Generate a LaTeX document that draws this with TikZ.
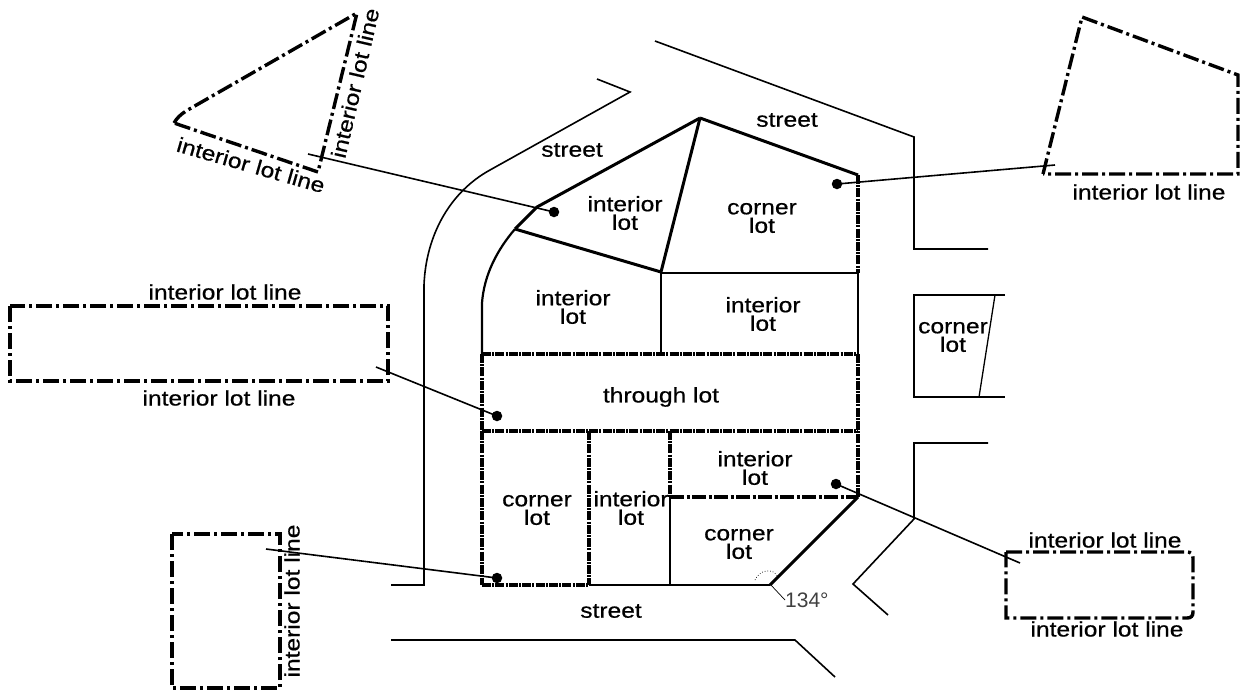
\documentclass[tikz,border=0pt]{standalone}
\usepackage{fontspec}
\setmainfont[FakeStretch=1.17,FakeBold=0.6]{Liberation Sans}
\newfontfamily\plainfont{Liberation Sans}
\usetikzlibrary{calc}
\tikzset{
 lbl/.style={font=\fontsize{21}{18.5}\selectfont,align=center,inner sep=0pt,text=black},
 angtxt/.style={font=\plainfont\fontsize{21}{21}\selectfont,inner sep=0pt,text=black!75},
 streetline/.style={line width=1.6pt,line join=miter},
 lotthin/.style={line width=1.3pt},
 lotmid/.style={line width=2.2pt},
 lotsolid/.style={line width=3pt},
 lotdash/.style={line width=3.2pt,dash pattern=on 9pt off 1.2pt on 2pt off 1.2pt},
 lotdashwide/.style={line width=3.2pt,dash pattern=on 14pt off 2.5pt on 3pt off 2.5pt},
 detail/.style={line width=3.4pt,dash pattern=on 16pt off 4pt on 3pt off 4pt},
 leader/.style={line width=1.6pt},
 pin/.style={circle,fill=black,inner sep=0pt,minimum size=10.5pt},
}
\begin{document}
\begin{tikzpicture}[x=1pt,y=-1pt]
\useasboundingbox (0,0) rectangle (1241,689);
% streets
\draw[streetline] (655,41) -- (914,137) -- (914,249) -- (988,249);
\draw[streetline] (1005,295) -- (914,295) -- (914,397) -- (1005,397);
\draw[lotthin] (995,295) -- (979,397);
\draw[streetline] (988,443) -- (914,443) -- (914,519) -- (853,584) -- (888,615);
\draw[streetline] (391,640) -- (795,640) -- (835,677);
\draw[streetline] (391,585) -- (424,585) -- (424,285) .. controls (426,235) and (450,192) .. (490,170) -- (630,92) -- (597,79);
% block outline
\draw[lotmid] (482,354) -- (482,303) .. controls (484,275) and (497,250) .. (515,229);
\draw[lotsolid] (515,229) -- (537,207) -- (700,118);
\draw[lotsolid] (700,118) -- (858,175);
\draw[lotsolid] (700,118) -- (661,272);
\draw[lotsolid] (515,229) -- (661,272);
\draw[lotmid] (661,273) -- (858,273);
\draw[lotthin] (661,273) -- (661,354);
\draw[lotdash] (858,175) -- (858,273);
\draw[lotthin] (858,273) -- (858,354);
\draw[lotdash] (858,354) -- (858,497);
\draw[lotdash] (482,354) -- (858,354);
\draw[lotdash] (482,431) -- (858,431);
\draw[lotdash] (482,354) -- (482,431);
\draw[lotdash] (482,431) -- (482,585);
\draw[lotdash] (589,431) -- (589,585);
\draw[lotdash] (670,431) -- (670,497);
\draw[lotdashwide] (670,497) -- (858,497);
\draw[lotdash] (482,585) -- (589,585);
\draw[lotmid] (589,585) -- (770,585);
\draw[lotthin] (670,497) -- (670,585);
\draw[lotsolid] (770,585) -- (858,497);
% angle mark
\coordinate (ang) at (770,584);
\draw[line width=0.7pt,dotted] (755,580) .. controls (759,570) and (773,567) .. (778,577);
\node[angtxt,anchor=west] (angl) at (785,600) {134°};
\draw[line width=0.7pt] (ang) -- (angl.west);
% detail shapes
\draw[detail] (174,123) .. controls (177,118) and (180,115) .. (186,111) -- (357,13) -- (318,172) -- cycle;
\draw[detail] (1043,174) -- (1082,17) -- (1238,75) -- (1238,174) -- cycle;
\draw[detail] (10,306) rectangle (388,381);
\draw[detail] (172,534) rectangle (280,688);
\draw[detail] (1006,552) -- (1187,552) .. controls (1191,552) and (1193,554) .. (1193,558) -- (1193,612) .. controls (1193,616) and (1191,618) .. (1187,618) -- (1006,618) -- cycle;
% pins and leaders
\node[pin] (p1) at (554,212) {};
\node[pin] (p2) at (837,184) {};
\node[pin] (p3) at (497,416) {};
\node[pin] (p4) at (497,578) {};
\node[pin] (p5) at (836,484) {};
\coordinate (q1) at (308,154);
\coordinate (q2) at (1055,165);
\coordinate (q3) at (376,367);
\coordinate (q4) at (266,549);
\coordinate (q5) at (1020,563);
\draw[leader] (p1.center) -- (q1);
\draw[leader] (p2.center) -- (q2);
\draw[leader] (p3.center) -- (q3);
\draw[leader] (p4.center) -- (q4);
\draw[leader] (p5.center) -- (q5);
% labels
\node[lbl,rotate=-16] (t1) at (251,165) {interior lot line};
\node[lbl,rotate=77] (t2) at (355,83) {interior lot line};
\node[lbl] (t3) at (1149,192) {interior lot line};
\node[lbl] (t4) at (225,292) {interior lot line};
\node[lbl] (t5) at (219,398) {interior lot line};
\node[lbl,rotate=90] (t6) at (292,601) {interior lot line};
\node[lbl] (t7) at (1105,540) {interior lot line};
\node[lbl] (t8) at (1107,629) {interior lot line};
\node[lbl] (s1) at (572,150) {street};
\node[lbl] (s2) at (787,120) {street};
\node[lbl] (s3) at (611,611) {street};
\node[lbl] (l1) at (625,213) {interior\\lot};
\node[lbl] (l2) at (762,218) {corner\\lot};
\node[lbl] (l3) at (573,307) {interior\\lot};
\node[lbl] (l4) at (763,314) {interior\\lot};
\node[lbl] (l5) at (661,397) {through lot};
\node[lbl] (l6) at (537,510) {corner\\lot};
\node[lbl] (l7) at (631,508) {interior\\lot};
\node[lbl] (l8) at (755,468) {interior\\lot};
\node[lbl] (l9) at (739,544) {corner\\lot};
\node[lbl] (l10) at (953,337) {corner\\lot};
\end{tikzpicture}
\end{document}
